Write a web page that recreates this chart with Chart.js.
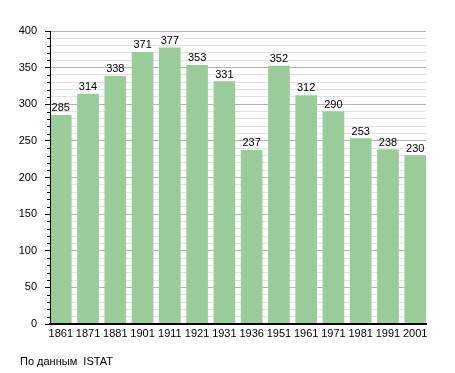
<!DOCTYPE html>
<html>
<head>
<meta charset="utf-8">
<script src="https://cdn.jsdelivr.net/npm/chart.js@4/dist/chart.umd.min.js"></script>
<style>
  html, body { margin: 0; padding: 0; background: #fff; }
  #wrap { position: relative; width: 455px; height: 373px; }
  #source {
    position: absolute; left: 20px; top: 355px;
    font: 11px "Liberation Sans", Arial, sans-serif; color: #000;
    white-space: pre; line-height: 13px;
  }
</style>
</head>
<body>
<div id="wrap">
  <canvas id="popChart" width="455" height="373"></canvas>
  <div id="source">По данным  ISTAT</div>
</div>
<script>
// годы переписей и население
const years = ['1861', '1871', '1881', '1901', '1911', '1921', '1931', '1936', '1951', '1961', '1971', '1981', '1991', '2001'];
const population = [285, 314, 338, 371, 377, 353, 331, 237, 352, 312, 290, 253, 238, 230];

const FONT = { family: '"Liberation Sans", Arial, sans-serif', size: 11 };

const ctx = document.getElementById('popChart').getContext('2d');

// подписи значений над столбиками + мелкие засечки на оси Y
const extras = {
  id: 'extras',
  afterDatasetsDraw(chart) {
    const c = chart.ctx;
    const meta = chart.getDatasetMeta(0);
    c.save();
    c.font = '11px ' + FONT.family;
    c.fillStyle = '#000';
    c.textAlign = 'center';
    c.textBaseline = 'alphabetic';
    meta.data.forEach((bar, i) => {
      c.fillText(String(population[i]), bar.x, bar.y - 4);
    });
    c.restore();
  },
  afterDraw(chart) {
    const c = chart.ctx;
    const y = chart.scales.y;
    const left = chart.chartArea.left;
    c.save();
    c.strokeStyle = '#000';
    c.lineWidth = 1;
    for (let v = 10; v < 400; v += 10) {
      if (v % 50 === 0) continue;
      const py = Math.round(y.getPixelForValue(v)) + 0.5;
      c.beginPath();
      c.moveTo(left - 3, py);
      c.lineTo(left, py);
      c.stroke();
    }
    c.restore();
  }
};

new Chart(ctx, {
  type: 'bar',
  data: {
    datasets: [{
      data: years.map((_, i) => ({ x: i, y: population[i] })),
      backgroundColor: 'rgb(153, 204, 153)',
      borderWidth: 0,
      barThickness: 21
    }]
  },
  options: {
    responsive: false,
    animation: false,
    events: [],
    layout: { padding: { top: 31, right: 29, bottom: 0, left: 0 } },
    plugins: {
      legend: { display: false },
      tooltip: { enabled: false }
    },
    scales: {
      x: {
        type: 'linear',
        offset: false,
        bounds: 'data',
        min: -0.395,
        max: 13.395,
        afterBuildTicks(s) {
          s.ticks = years.map((_, i) => ({ value: i }));
        },
        afterFit(s) { s.height = 49; },
        grid: { display: false, drawTicks: false, offset: false },
        border: { display: true, color: '#000', width: 2, z: 1 },
        ticks: {
          autoSkip: false,
          maxRotation: 0,
          padding: 3,
          color: '#000',
          font: FONT,
          callback: (v) => years[v] ?? ''
        }
      },
      y: {
        min: 0,
        max: 400,
        afterFit(s) { s.width = 50; },
        grid: {
          color: (c) => (c.tick.value % 50 === 0 ? '#b4b4b4' : '#e2e2e2'),
          tickColor: (c) => (c.tick.value % 50 === 0 ? '#000' : 'rgba(0,0,0,0)'),
          tickLength: 5
        },
        border: { display: true, color: '#000', width: 1, z: 1 },
        ticks: {
          stepSize: 10,
          padding: 8,
          color: '#000',
          font: FONT,
          autoSkip: false,
          callback: (v) => (v % 50 === 0 ? v : '')
        }
      }
    }
  },
  plugins: [extras]
});
</script>
</body>
</html>
